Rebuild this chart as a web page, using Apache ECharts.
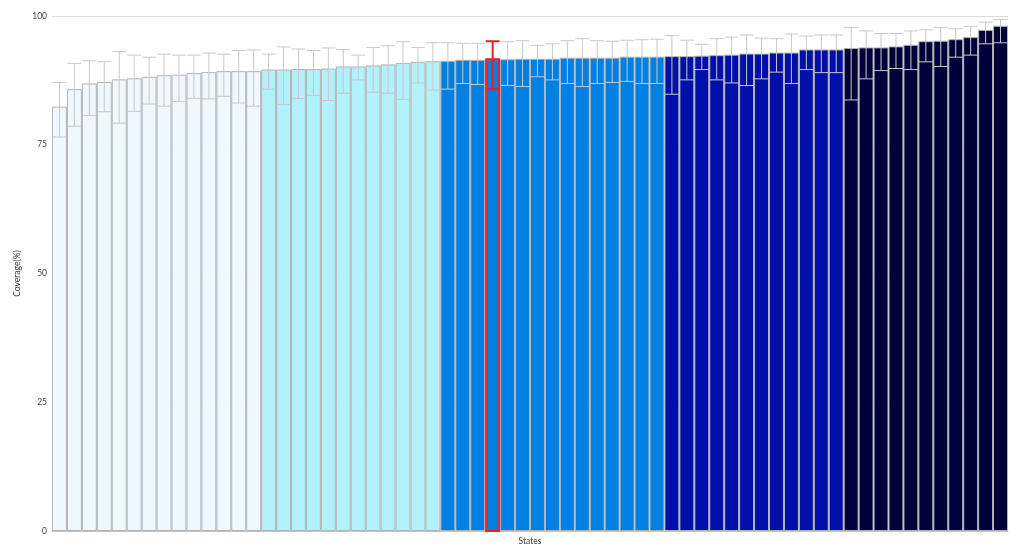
<!DOCTYPE html>
<html>
<head>
<meta charset="utf-8">
<script src="https://cdn.jsdelivr.net/npm/echarts@6/dist/echarts.min.js"></script>
<style>html,body{margin:0;padding:0;background:#fff}#c{width:1024px;height:558px}</style>
</head>
<body>
<div id="c"></div>
<script>
const categories = ["S01","S02","S03","S04","S05","S06","S07","S08","S09","S10","S11","S12","S13","S14","S15","S16","S17","S18","S19","S20","S21","S22","S23","S24","S25","S26","S27","S28","S29","S30","S31","S32","S33","S34","S35","S36","S37","S38","S39","S40","S41","S42","S43","S44","S45","S46","S47","S48","S49","S50","S51","S52","S53","S54","S55","S56","S57","S58","S59","S60","S61","S62","S63","S64"];
const coverage = [82.4,85.8,86.9,87.2,87.7,87.9,88.2,88.5,88.6,88.9,89.1,89.3,89.3,89.3,
  89.6,89.6,89.7,89.7,89.8,90.2,90.2,90.4,90.6,90.9,91.1,91.2,
  91.3,91.5,91.5,91.6,91.6,91.7,91.7,91.7,91.9,91.9,91.9,91.9,92.1,92.1,92.1,
  92.2,92.2,92.3,92.4,92.5,92.7,92.7,92.9,92.9,93.5,93.5,93.5,
  93.8,93.9,93.9,94.1,94.4,95.1,95.2,95.5,95.9,97.3,98.1];
const upper = [87.1,90.8,91.3,91.1,93.1,92.4,92.0,92.6,92.4,92.4,92.8,92.6,93.3,93.4,
  92.6,94.0,93.6,93.3,93.8,93.5,92.4,93.9,94.2,95.0,93.9,94.8,
  94.8,94.7,94.7,95.1,95.0,95.2,94.3,94.6,95.2,95.6,95.2,95.1,95.3,95.4,95.5,
  96.2,95.3,94.5,95.6,95.9,96.3,95.7,95.6,96.5,96.1,96.3,96.3,
  97.8,97.1,96.6,96.6,97.1,97.3,97.8,97.5,98.0,98.8,99.3];
const lower = [76.5,78.6,80.7,81.4,79.2,81.5,82.9,82.5,83.4,84.0,83.9,84.4,83.1,82.5,
  85.8,82.8,84.0,84.6,83.6,85.0,87.6,85.2,85.0,83.8,87.0,85.6,
  85.8,86.9,86.7,85.8,86.5,86.3,88.2,87.6,86.9,86.3,86.9,87.1,87.3,86.9,86.9,
  84.8,87.6,89.6,87.6,87.0,86.5,87.8,89.1,86.9,89.6,89.0,89.0,
  83.7,87.8,89.4,89.8,89.6,91.1,90.2,92.0,92.4,94.6,94.8];
const groupSizes = [14,12,15,12,11];
const groupColors = ['#EFF7FF','#B2F0FC','#0080E2','#000FAA','#00003A'];
const highlightIndex = 29;
const yTicks = [0,25,50,75,100];

const barColors = [];
groupSizes.forEach((n,g)=>{ for(let k=0;k<n;k++) barColors.push(groupColors[g]); });

const chart = echarts.init(document.getElementById('c'));
chart.setOption({
  animation:false,
  grid:{left:52,right:16,top:16,bottom:27},
  xAxis:{
    type:'category', data:categories,
    name:'States', nameLocation:'middle', nameGap:6,
    nameTextStyle:{fontFamily:'Lato',fontSize:8.5,color:'#333'},
    axisLine:{lineStyle:{color:'#c0c0c0'}},
    axisTick:{show:false}, axisLabel:{show:false}
  },
  yAxis:{
    type:'value', min:0, max:100, interval:25,
    name:'Coverage(%)', nameLocation:'middle', nameGap:23,
    nameTextStyle:{fontFamily:'Lato',fontSize:8.5,color:'#333'},
    axisLine:{show:false}, axisTick:{show:false},
    axisLabel:{fontFamily:'Lato',fontSize:8.5,color:'#444',margin:5,
      formatter:v=> yTicks.includes(v)? String(v):''},
    splitLine:{lineStyle:{color:'#dcdcdc'}}
  },
  series:[
    {
      type:'bar', barCategoryGap:'0%',
      data: coverage.map((v,i)=>({value:v, itemStyle:{color:barColors[i]}})),
      itemStyle:{borderColor:'#b4b4b4', borderWidth:1},
      z:2
    },
    {
      type:'custom', z:5,
      data: coverage.map((v,i)=>[i, lower[i], upper[i], v]),
      renderItem:function(params, api){
        const i = api.value(0);
        const x = api.coord([i,0])[0];
        const y0 = api.coord([i,0])[1];
        const yL = api.coord([i,api.value(1)])[1];
        const yH = api.coord([i,api.value(2)])[1];
        const yV = api.coord([i,api.value(3)])[1];
        const w = api.size([1,0])[0];
        const half = w/2 - 0.5;
        const hl = i === highlightIndex;
        const stroke = hl ? '#ee1c24' : '#c8c8c8';
        const lw = hl ? 2 : 1;
        const children = [
          {type:'line', shape:{x1:x,y1:yL,x2:x,y2:yH}, style:{stroke,lineWidth:lw}},
          {type:'line', shape:{x1:x-half,y1:yH,x2:x+half,y2:yH}, style:{stroke,lineWidth:lw}},
          {type:'line', shape:{x1:x-half,y1:yL,x2:x+half,y2:yL}, style:{stroke,lineWidth:lw}}
        ];
        if(hl){
          children.unshift({type:'rect', shape:{x:x-w/2+1,y:yV,width:w-2,height:y0-yV},
            style:{fill:null, stroke:'#ee1c24', lineWidth:2}});
        }
        return {type:'group', children};
      }
    }
  ]
});
</script>
</body>
</html>
